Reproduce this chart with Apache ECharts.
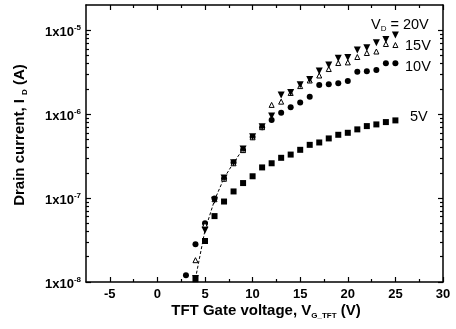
<!DOCTYPE html>
<html>
<head>
<meta charset="utf-8">
<script src="https://cdn.jsdelivr.net/npm/echarts@6/dist/echarts.min.js"></script>
<style>
	html, body { margin: 0; padding: 0; background: #fff; }
	#chart { width: 456px; height: 329px; }
</style>
</head>
<body>
<div id="chart"></div>
<script>
// gate voltage steps (V)
const gateV = [3, 4, 5, 6, 7, 8, 9, 10, 11, 12, 13, 14, 15, 16, 17, 18, 19, 20, 21, 22, 23, 24, 25]

// drain current (A) for each drain voltage
const id5V = [null, 1.08e-8, 3.08e-8, 6.1e-8, 9.1e-8, 1.2e-7, 1.51e-7, 1.82e-7, 2.32e-7, 2.6e-7, 3.02e-7, 3.3e-7,
	3.76e-7, 4.31e-7, 4.6e-7, 5.14e-7, 5.68e-7, 6.0e-7, 6.59e-7, 7.21e-7, 7.55e-7, 8.05e-7, 8.43e-7]
const id10V = [1.2e-8, 2.82e-8, 5.0e-8, 9.9e-8, 1.71e-7, 2.66e-7, 3.73e-7, 5.33e-7, 7.0e-7, 8.5e-7, 1.04e-6, 1.21e-6,
	1.38e-6, 1.61e-6, 2.22e-6, 2.27e-6, 2.33e-6, 2.48e-6, 3.21e-6, 3.24e-6, 3.36e-6, 4.04e-6, 4.04e-6]
const id15V = [null, 1.82e-8, 4.8e-8, 9.7e-8, 1.7e-7, 2.6e-7, 3.73e-7, 5.3e-7, 7.0e-7, 1.29e-6, 1.41e-6, 1.79e-6,
	2.16e-6, 2.52e-6, 2.89e-6, 3.45e-6, 4.07e-6, 4.14e-6, 4.8e-6, 5.36e-6, 5.58e-6, 6.86e-6, 6.67e-6]
const id20V = [null, 1.1e-8, 4.14e-8, 9.44e-8, 1.73e-7, 2.64e-7, 3.84e-7, 5.37e-7, 7.08e-7, 9.5e-7, 1.69e-6, 1.81e-6,
	2.24e-6, 2.59e-6, 3.27e-6, 3.85e-6, 4.63e-6, 4.73e-6, 5.82e-6, 6.2e-6, 7.1e-6, 7.76e-6, 8.79e-6]

// the dotted guide follows the 20V points in the turn-on region
const guideV = [4, 5, 6, 7, 8, 9]

// ticks (y ticks kept as decade exponents)
const xMajor = [-5, 0, 5, 10, 15, 20, 25, 30]
const xMinor = [-2.5, 2.5, 7.5, 12.5, 17.5, 22.5, 27.5]
const yLabels = [1e-8, 1e-7, 1e-6, 1e-5]
const yMajorExp = [-8, -7, -6, -5]
const yMinorExp = []
for (let n = -8; n <= -6; n++) {
	for (let k = 2; k <= 9; k++) yMinorExp.push(n + Math.log10(k))
}

const yMin = 1e-8
const yMax = 2e-5
const font = 'Liberation Sans, Arial, sans-serif'
const ink = '#000'

const pairs = (ys) => gateV.map((v, i) => [v, ys[i]]).filter((p) => p[1] != null)

const xAxisBase = (pos, ticks, len, showLine, showLabel) => ({
	type: 'value',
	min: -7.5,
	max: 30,
	position: pos,
	axisLine: { show: showLine, onZero: false, lineStyle: { color: ink, width: 1.5 } },
	splitLine: { show: false },
	axisTick: { show: true, inside: true, length: len, customValues: ticks, lineStyle: { color: ink, width: 1.2 } },
	axisLabel: {
		show: showLabel,
		customValues: xMajor,
		margin: 6,
		color: ink,
		fontFamily: font,
		fontSize: 13,
		fontWeight: 'bold'
	}
})

// tick-only axes in exponent space, stacked on the log axis
const yTickAxis = (pos, ticks, len, showLine) => ({
	type: 'value',
	min: Math.log10(yMin),
	max: Math.log10(yMax),
	position: pos,
	axisLine: { show: showLine, onZero: false, lineStyle: { color: ink, width: 1.5 } },
	splitLine: { show: false },
	axisTick: { show: true, inside: true, length: len, customValues: ticks, lineStyle: { color: ink, width: 1.2 } },
	axisLabel: { show: false }
})

const rich = {
	a: { fontFamily: font, fontSize: 14.5, color: ink, lineHeight: 16 },
	s: { fontFamily: font, fontSize: 8, color: ink, lineHeight: 10, verticalAlign: 'bottom' },
	b: { fontFamily: font, fontSize: 15, fontWeight: 'bold', color: ink, lineHeight: 18 },
	bs: { fontFamily: font, fontSize: 8, fontWeight: 'bold', color: ink, lineHeight: 10, verticalAlign: 'bottom' }
}

const node = document.getElementById('chart')
const myChart = echarts.init(node)

const option = {
	animation: false,
	backgroundColor: '#fff',
	grid: { left: 86, right: 13, top: 5, bottom: 47 },
	xAxis: [
		xAxisBase('bottom', xMajor, 5, true, true),
		xAxisBase('bottom', xMinor, 3, false, false),
		xAxisBase('top', xMajor, 5, true, false),
		xAxisBase('top', xMinor, 3, false, false)
	],
	yAxis: [
		{
			type: 'log',
			logBase: 10,
			min: yMin,
			max: yMax,
			position: 'left',
			axisLine: { show: true, onZero: false, lineStyle: { color: ink, width: 1.5 } },
			splitLine: { show: false },
			axisTick: { show: false },
			axisLabel: {
				customValues: yLabels,
				margin: 5,
				padding: [4, 0, 0, 0],
				formatter: (v) => '{a|1x10}{s|' + Math.round(Math.log10(v)) + '}',
				rich: {
					a: { fontFamily: font, fontSize: 13, fontWeight: 'bold', color: ink, lineHeight: 16 },
					s: { fontFamily: font, fontSize: 8, fontWeight: 'bold', color: ink, lineHeight: 9, verticalAlign: 'top' }
				}
			}
		},
		yTickAxis('left', yMajorExp, 5, false),
		yTickAxis('left', yMinorExp, 3, false),
		yTickAxis('right', yMajorExp, 5, true),
		yTickAxis('right', yMinorExp, 3, false)
	],
	graphic: [
		{
			type: 'text', left: 371, top: 17,
			style: { text: '{a|V}{s|D}{a| = 20V}', rich: rich }
		},
		{
			type: 'text', left: 405, top: 38,
			style: { text: '{a|15V}', rich: rich }
		},
		{
			type: 'text', left: 405, top: 59,
			style: { text: '{a|10V}', rich: rich }
		},
		{
			type: 'text', left: 410, top: 109,
			style: { text: '{a|5V}', rich: rich }
		},
		{
			type: 'text', x: 20, y: 135, rotation: Math.PI / 2,
			style: { text: '{b|Drain current, I }{bs|D}{b| (A)}', rich: rich, align: 'center', verticalAlign: 'middle' }
		},
		{
			type: 'text', x: 266, y: 311,
			style: { text: '{b|TFT Gate voltage, V}{bs|G_TFT}{b| (V)}', rich: rich, align: 'center', verticalAlign: 'middle' }
		}
	],
	series: [
		{
			name: 'guide',
			type: 'line',
			data: guideV.map((v) => [v, id20V[gateV.indexOf(v)]]),
			symbol: 'none',
			lineStyle: { color: ink, width: 1, type: [3, 2] },
			z: 1
		},
		{
			name: '5V',
			type: 'scatter',
			data: pairs(id5V),
			symbol: 'rect',
			symbolSize: 6,
			itemStyle: { color: ink, opacity: 1 }
		},
		{
			name: '10V',
			type: 'scatter',
			data: pairs(id10V),
			symbol: 'circle',
			symbolSize: 6,
			itemStyle: { color: ink, opacity: 1 }
		},
		{
			name: '15V',
			type: 'scatter',
			data: pairs(id15V),
			symbol: 'triangle',
			symbolSize: 5,
			itemStyle: { color: '#fff', borderColor: ink, borderWidth: 1, opacity: 1 }
		},
		{
			name: '20V',
			type: 'scatter',
			data: pairs(id20V),
			symbol: 'triangle',
			symbolRotate: 180,
			symbolSize: 7,
			itemStyle: { color: ink, opacity: 1 }
		}
	]
}

myChart.setOption(option)

window.addEventListener('resize', () => {
	myChart.resize()
})
</script>
</body>
</html>
